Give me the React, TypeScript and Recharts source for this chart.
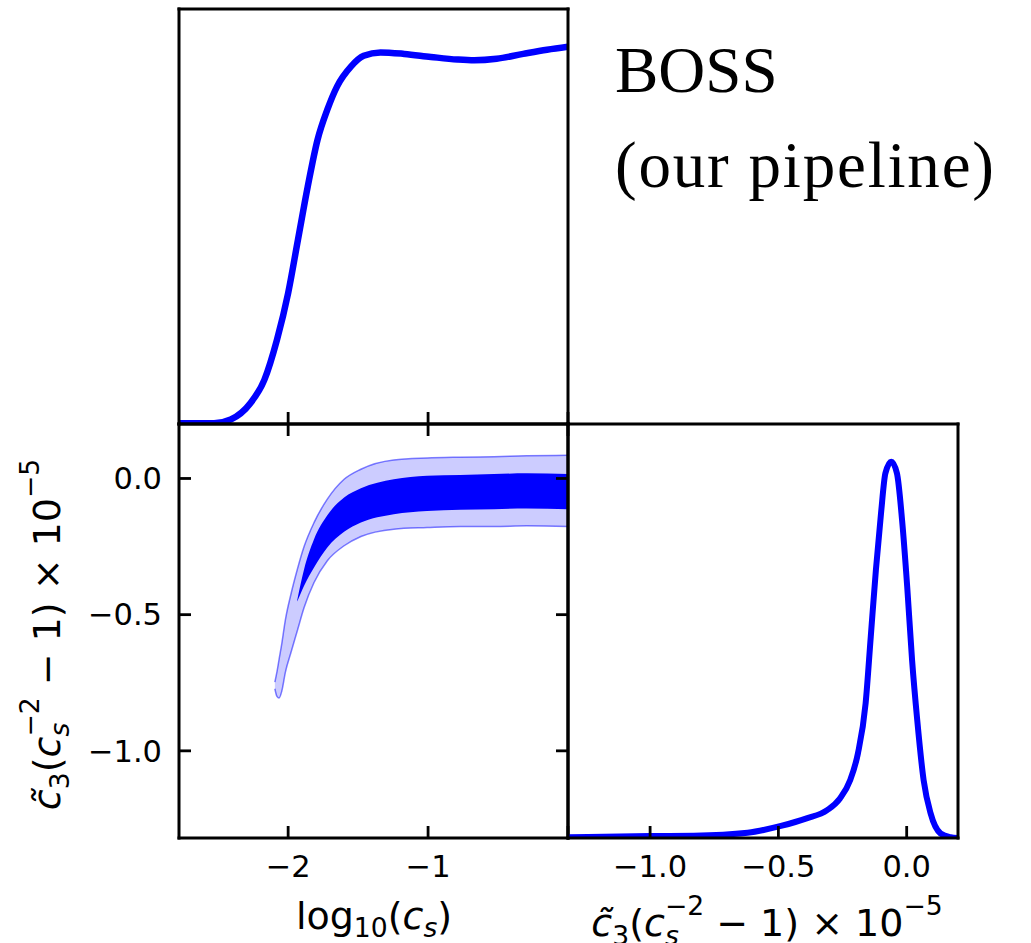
import { ComposedChart, Line, Area, XAxis, YAxis } from "recharts";

// marginal of log10(c_s), peak-normalised
const logCsGrid = [-2.78, -2.65, -2.53, -2.41, -2.27, -2.17, -2.08, -2.0, -1.93, -1.86, -1.79, -1.72, -1.65, -1.55, -1.46, -1.34, -1.17, -0.98, -0.79, -0.67, -0.51, -0.32, -0.15, 0.0];
const logCsDensity = [0.002, 0.002, 0.002, 0.012, 0.055, 0.117, 0.223, 0.347, 0.488, 0.629, 0.753, 0.833, 0.895, 0.948, 0.976, 0.985, 0.981, 0.973, 0.966, 0.964, 0.968, 0.981, 0.992, 1.0];

// marginal of c3 (c_s^-2 - 1) x 1e-5, peak-normalised
const c3Grid = [-1.32, -1.0, -0.83, -0.62, -0.49, -0.39, -0.31, -0.26, -0.22, -0.19, -0.16, -0.14, -0.12, -0.1, -0.083, -0.06, -0.038, -0.018, 0.002, 0.021, 0.041, 0.066, 0.093, 0.132, 0.171, 0.2];
const c3Density = [0.002, 0.005, 0.006, 0.014, 0.032, 0.052, 0.074, 0.105, 0.154, 0.225, 0.358, 0.535, 0.712, 0.863, 0.969, 1.0, 0.969, 0.845, 0.668, 0.473, 0.314, 0.154, 0.066, 0.012, 0.002, 0.0];

// 2D credible regions, lower / upper edge along log10(c_s)
const contourX = [-2.095, -2.08, -2.065, -2.045, -2.02, -1.98, -1.935, -1.886, -1.815, -1.72, -1.6, -1.48, -1.245, -1.007, -0.77, -0.53, -0.295, 0.0];
const outerLo = [-0.772, -0.8, -0.806, -0.78, -0.712, -0.639, -0.56, -0.474, -0.382, -0.302, -0.247, -0.213, -0.186, -0.18, -0.176, -0.176, -0.174, -0.176];
const outerHi = [-0.748, -0.71, -0.665, -0.605, -0.52, -0.425, -0.335, -0.25, -0.162, -0.076, -0.003, 0.034, 0.068, 0.075, 0.078, 0.08, 0.083, 0.085];
const innerLo = [null, null, null, null, null, null, -0.452, -0.394, -0.327, -0.253, -0.196, -0.162, -0.131, -0.119, -0.115, -0.113, -0.11, -0.113];
const innerHi = [null, null, null, null, null, null, -0.446, -0.333, -0.223, -0.135, -0.07, -0.036, -0.003, 0.01, 0.013, 0.016, 0.019, 0.016];

const logCsTicks = [-2, -1, 0];
const logCsTickLabels = [-2, -1];
const c3Ticks = [-1, -0.5, 0];

const logCsRows = logCsGrid.map((x, i) => ({ x, p: logCsDensity[i] }));
const c3Rows = c3Grid.map((x, i) => ({ x, p: c3Density[i] }));
const contourRows = contourX.map((x, i) => ({
  x,
  outer: [outerLo[i], outerHi[i]],
  inner: innerLo[i] == null ? null : [innerLo[i], innerHi[i]],
}));

const BLUE = "#0000ff";
const X_DOM: [number, number] = [-2.78, 0];
const C3_DOM: [number, number] = [-1.32, 0.2];
const P_DOM: [number, number] = [0, 1.1];

const spine = { stroke: "#000", strokeWidth: 3, strokeLinecap: "square" as const };
const tickMark = { stroke: "#000", strokeWidth: 2.8 };
const tickFont = { fill: "#000", fontSize: 30.5, fontFamily: "DejaVu Sans" };
const blank = () => "";
const minus = (s: string) => s.replace("-", "\u2212");
const fmtInt = (v: number) => minus(String(v));
const fmt1 = (v: number) => minus(v.toFixed(1));

const mathFont = { fontFamily: "DejaVu Sans", fontSize: 38, fill: "#000", whiteSpace: "pre" as const };
const SUB = 26.6;

function C3Label({ x, y, rotate }: { x: number; y: number; rotate?: boolean }) {
  return (
    <text
      x={rotate ? -y : x}
      y={rotate ? x : y}
      transform={rotate ? "rotate(-90)" : undefined}
      textAnchor="middle"
      style={mathFont}
    >
      <tspan fontStyle="italic">{"c\u0303"}</tspan>
      <tspan fontSize={SUB} dy={9}>3</tspan>
      <tspan dy={-9}>(</tspan>
      <tspan fontStyle="italic">c</tspan>
      <tspan fontSize={SUB} fontStyle="italic" dy={9}>s</tspan>
      <tspan fontSize={SUB} dx={-13.9} dy={-30}>{"\u22122"}</tspan>
      <tspan dy={21}>{" \u2212 1) \u00d7 10"}</tspan>
      <tspan fontSize={SUB} dy={-21}>{"\u22125"}</tspan>
    </text>
  );
}

export default function App() {
  return (
    <div style={{ position: "absolute", left: 0, top: 0, width: 1031, height: 943, background: "#fff" }}>
      {/* top-left: log10(c_s) marginal */}
      <div style={{ position: "absolute", left: 169, top: -1 }}>
        <ComposedChart width={409} height={435} data={logCsRows} margin={{ top: 10, right: 10, bottom: 10, left: 10 }}>
          <XAxis dataKey="x" type="number" domain={X_DOM} allowDataOverflow ticks={logCsTicks} interval={0}
            mirror height={1} tickSize={12} stroke="#000" tickLine={tickMark} axisLine={spine} tickFormatter={blank} />
          <XAxis xAxisId="top" orientation="top" dataKey="x" type="number" domain={X_DOM} allowDataOverflow ticks={[-1]}
            mirror height={1} tickLine={false} stroke="#000" axisLine={spine} tickFormatter={blank} />
          <YAxis type="number" domain={P_DOM} allowDataOverflow ticks={[0.5]} mirror width={1} tickLine={false}
            stroke="#000" axisLine={spine} tickFormatter={blank} />
          <YAxis yAxisId="right" orientation="right" type="number" domain={P_DOM} allowDataOverflow ticks={[0.5]}
            mirror width={1} tickLine={false} stroke="#000" axisLine={spine} tickFormatter={blank} />
          <Line dataKey="p" type="monotone" stroke={BLUE} strokeWidth={6.5} dot={false} activeDot={false} isAnimationActive={false} />
        </ComposedChart>
      </div>

      {/* bottom-left: joint contours */}
      <div style={{ position: "absolute", left: 0, top: 414 }}>
        <ComposedChart width={578} height={529} data={contourRows} margin={{ top: 10, right: 10, bottom: 5, left: 19 }}>
          <XAxis xAxisId="lab" dataKey="x" type="number" domain={X_DOM} allowDataOverflow ticks={logCsTickLabels} interval={0}
            height={100} tickSize={0} tickMargin={17.6} tickLine={false} axisLine={false} tick={tickFont} tickFormatter={fmtInt} />
          <XAxis dataKey="x" type="number" domain={X_DOM} allowDataOverflow ticks={logCsTicks} interval={0}
            mirror height={1} tickSize={12} stroke="#000" tickLine={tickMark} axisLine={spine} tickFormatter={blank} />
          <XAxis xAxisId="top" orientation="top" dataKey="x" type="number" domain={X_DOM} allowDataOverflow ticks={logCsTicks} interval={0}
            mirror height={1} tickSize={12} stroke="#000" tickLine={tickMark} axisLine={spine} tickFormatter={blank} />
          <YAxis yAxisId="lab" type="number" domain={C3_DOM} allowDataOverflow ticks={c3Ticks} interval={0}
            width={160} tickSize={0} tickMargin={17} tickLine={false} axisLine={false} tick={tickFont} tickFormatter={fmt1} />
          <YAxis type="number" domain={C3_DOM} allowDataOverflow ticks={c3Ticks} interval={0}
            mirror width={1} tickSize={12} stroke="#000" tickLine={tickMark} axisLine={spine} tickFormatter={blank} />
          <YAxis yAxisId="right" orientation="right" type="number" domain={C3_DOM} allowDataOverflow ticks={c3Ticks} interval={0}
            mirror width={1} tickSize={12} stroke="#000" tickLine={tickMark} axisLine={spine} tickFormatter={blank} />
          <Area dataKey="outer" type="monotone" fill={BLUE} fillOpacity={0.2} stroke={BLUE} strokeOpacity={0.5}
            strokeWidth={1.5} dot={false} activeDot={false} isAnimationActive={false} />
          <Area dataKey="inner" type="monotone" fill={BLUE} fillOpacity={1} stroke="none"
            dot={false} activeDot={false} isAnimationActive={false} />
        </ComposedChart>
      </div>

      {/* bottom-right: c3 marginal */}
      <div style={{ position: "absolute", left: 558, top: 414 }}>
        <ComposedChart width={473} height={529} data={c3Rows} margin={{ top: 10, right: 73, bottom: 5, left: 10 }}>
          <XAxis xAxisId="lab" dataKey="x" type="number" domain={C3_DOM} allowDataOverflow ticks={c3Ticks} interval={0}
            height={100} tickSize={0} tickMargin={17.6} tickLine={false} axisLine={false} tick={tickFont} tickFormatter={fmt1} />
          <XAxis dataKey="x" type="number" domain={C3_DOM} allowDataOverflow ticks={c3Ticks} interval={0}
            mirror height={1} tickSize={12} stroke="#000" tickLine={tickMark} axisLine={spine} tickFormatter={blank} />
          <XAxis xAxisId="top" orientation="top" dataKey="x" type="number" domain={C3_DOM} allowDataOverflow ticks={[-0.5]}
            mirror height={1} tickLine={false} stroke="#000" axisLine={spine} tickFormatter={blank} />
          <YAxis type="number" domain={P_DOM} allowDataOverflow ticks={[0.5]} mirror width={1} tickLine={false}
            stroke="#000" axisLine={spine} tickFormatter={blank} />
          <YAxis yAxisId="right" orientation="right" type="number" domain={P_DOM} allowDataOverflow ticks={[0.5]}
            mirror width={1} tickLine={false} stroke="#000" axisLine={spine} tickFormatter={blank} />
          <Line dataKey="p" type="monotone" stroke={BLUE} strokeWidth={6} dot={false} activeDot={false} isAnimationActive={false} />
        </ComposedChart>
      </div>

      {/* axis titles and annotation */}
      <svg width={1031} height={943} style={{ position: "absolute", left: 0, top: 0, pointerEvents: "none" }}>
        <text x={374} y={929} textAnchor="middle" style={mathFont}>
          log
          <tspan fontSize={SUB} dy={8}>10</tspan>
          <tspan dy={-8}>(</tspan>
          <tspan fontStyle="italic">c</tspan>
          <tspan fontSize={SUB} fontStyle="italic" dy={8}>s</tspan>
          <tspan dy={-8}>)</tspan>
        </text>
        <C3Label x={767} y={936} />
        <C3Label x={60} y={634.5} rotate />
        <text x={615} y={91.7} fontFamily="Liberation Serif" fontSize={65} fill="#000">BOSS</text>
        <text x={615} y={186.7} fontFamily="Liberation Serif" fontSize={65} fill="#000" letterSpacing={1.8}>
          (our pipeline)
        </text>
      </svg>
    </div>
  );
}
